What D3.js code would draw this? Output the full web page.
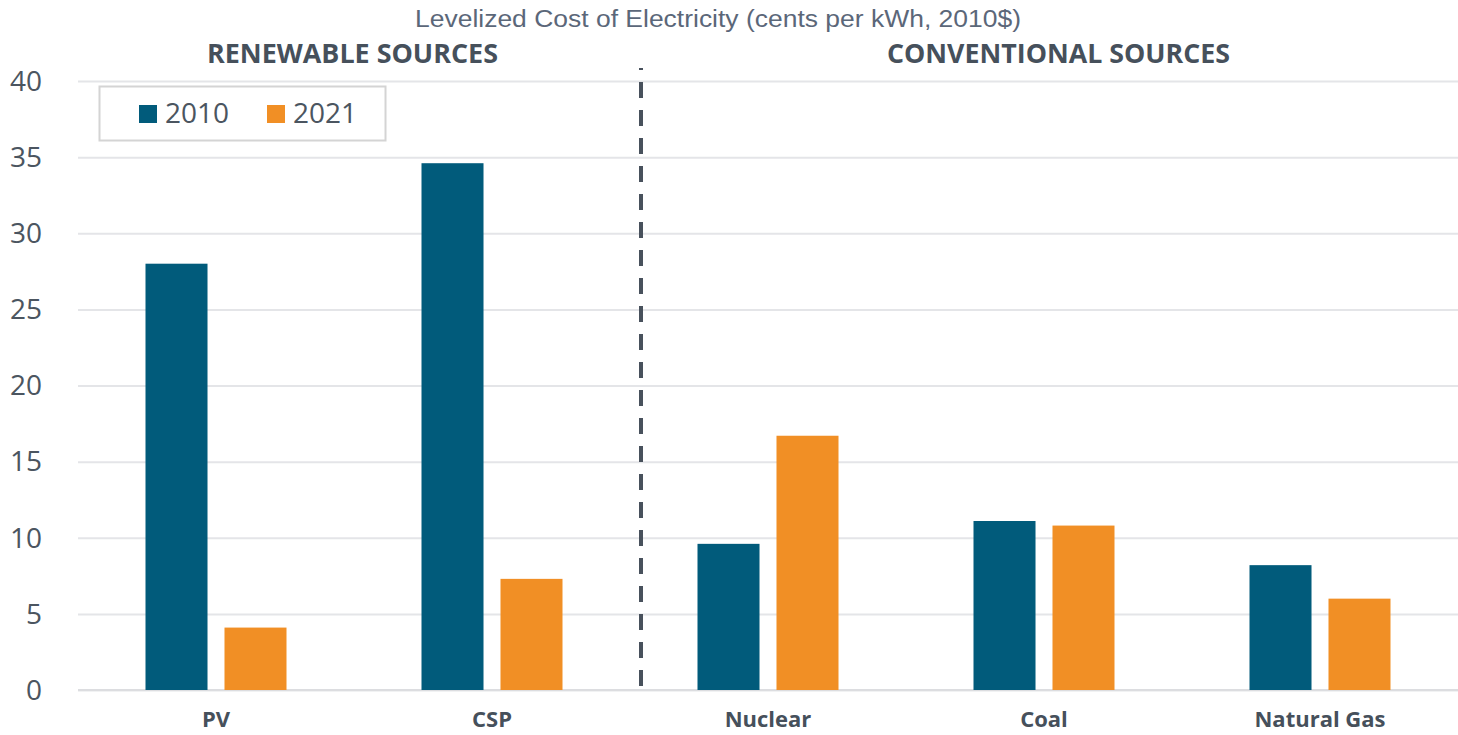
<!DOCTYPE html>
<html>
<head>
<meta charset="utf-8">
<script src="https://cdn.jsdelivr.net/npm/d3@7/dist/d3.min.js"></script>
<style>
  html, body { margin: 0; padding: 0; background: #fff; }
  svg { display: block; }
</style>
</head>
<body>
<svg id="chart" width="1458" height="735"></svg>
<script>
// Levelized cost of electricity, cents per kWh (2010$)
const categories = ["PV", "CSP", "Nuclear", "Coal", "Natural Gas"];
const seriesNames = ["2010", "2021"];
const values2010 = [28.0, 34.6, 9.6, 11.1, 8.2];
const values2021 = [4.1, 7.3, 16.7, 10.8, 6.0];
const yTicks = [0, 5, 10, 15, 20, 25, 30, 35, 40];
const groupLabels = ["RENEWABLE SOURCES", "CONVENTIONAL SOURCES"];
const chartTitle = "Levelized Cost of Electricity (cents per kWh, 2010$)";

const colors = { "2010": "#015b7b", "2021": "#f18f25" };
const textDark = "#46505b";

const plot = { left: 78, right: 1458, top: 81, bottom: 690 };

const svg = d3.select("#chart");

const x = d3.scaleBand()
  .domain(categories)
  .range([plot.left, plot.right])
  .paddingInner(0)
  .paddingOuter(0);

// two bars per category, centred in each band
const x1 = d3.scaleBand()
  .domain(seriesNames)
  .range([x.bandwidth() / 2 - 70.5, x.bandwidth() / 2 + 70.5])
  .paddingInner(0.215)
  .paddingOuter(0);

const y = d3.scaleLinear()
  .domain([0, 40])
  .range([plot.bottom, plot.top]);

// y axis with gridlines
const yAxis = d3.axisLeft(y)
  .tickValues(yTicks)
  .tickSize(-(plot.right - plot.left))
  .tickPadding(36)
  .tickFormat(d3.format("d"));

const yg = svg.append("g")
  .attr("transform", `translate(${plot.left},0)`)
  .call(yAxis);
yg.select(".domain").remove();
yg.selectAll(".tick line")
  .attr("stroke", "#e4e5e8")
  .attr("stroke-width", 2);
yg.selectAll(".tick text")
  .attr("fill", "#4b5560")
  .attr("font-family", "'Open Sans', sans-serif")
  .attr("font-size", 28)
  .attr("dy", "0.33em");

// baseline
svg.append("line")
  .attr("x1", plot.left).attr("x2", plot.right)
  .attr("y1", y(0)).attr("y2", y(0))
  .attr("stroke", "#dcdde0")
  .attr("stroke-width", 2);

// bars
const rows = categories.map((c, i) => ({
  category: c,
  values: [
    { key: "2010", value: values2010[i] },
    { key: "2021", value: values2021[i] }
  ]
}));

const groups = svg.append("g").selectAll("g")
  .data(rows)
  .join("g")
  .attr("transform", d => `translate(${x(d.category)},0)`);

groups.selectAll("rect")
  .data(d => d.values)
  .join("rect")
  .attr("x", d => x1(d.key))
  .attr("width", x1.bandwidth())
  .attr("y", d => y(d.value))
  .attr("height", d => y(0) - y(d.value))
  .attr("fill", d => colors[d.key]);

// category labels
svg.append("g").selectAll("text")
  .data(categories)
  .join("text")
  .attr("x", d => x(d) + x.bandwidth() / 2)
  .attr("y", 727)
  .attr("text-anchor", "middle")
  .attr("font-family", "'Open Sans', sans-serif")
  .attr("font-weight", 700)
  .attr("font-size", 22)
  .attr("fill", textDark)
  .text(d => d);

// divider between renewable and conventional sources
const dividerX = x("Nuclear") + 11;
svg.append("line")
  .attr("x1", dividerX).attr("x2", dividerX)
  .attr("y1", 68).attr("y2", y(0))
  .attr("stroke", "#48515c")
  .attr("stroke-width", 4)
  .attr("stroke-dasharray", "16,12")
  .attr("stroke-dashoffset", 14);

// group headings
const headingPos = [
  { x: 352.5, len: 291 },
  { x: 1058.5, len: 343 }
];
svg.append("g").selectAll("text")
  .data(groupLabels)
  .join("text")
  .attr("x", (d, i) => headingPos[i].x)
  .attr("y", 63)
  .attr("text-anchor", "middle")
  .attr("font-family", "'Open Sans', sans-serif")
  .attr("font-weight", 700)
  .attr("font-size", 26)
  .attr("fill", textDark)
  .attr("textLength", (d, i) => headingPos[i].len)
  .attr("lengthAdjust", "spacingAndGlyphs")
  .text(d => d);

// chart title
svg.append("text")
  .attr("x", 718)
  .attr("y", 27)
  .attr("text-anchor", "middle")
  .attr("font-family", "'Liberation Sans', sans-serif")
  .attr("font-size", 23)
  .attr("fill", "#5b6779")
  .attr("textLength", 606)
  .attr("lengthAdjust", "spacingAndGlyphs")
  .text(chartTitle);

// legend
const legend = svg.append("g");
legend.append("rect")
  .attr("x", 99.5).attr("y", 86.5)
  .attr("width", 286).attr("height", 54)
  .attr("fill", "#fff")
  .attr("stroke", "#d4d4d4")
  .attr("stroke-width", 2);

const legendItems = legend.selectAll("g")
  .data(seriesNames)
  .join("g")
  .attr("transform", (d, i) => `translate(${139 + i * 128},0)`);
legendItems.append("rect")
  .attr("x", 0).attr("y", 105)
  .attr("width", 18).attr("height", 18)
  .attr("fill", d => colors[d]);
legendItems.append("text")
  .attr("x", 26).attr("y", 123)
  .attr("font-family", "'Open Sans', sans-serif")
  .attr("font-size", 28)
  .attr("fill", "#4b5560")
  .text(d => d);
</script>
</body>
</html>
